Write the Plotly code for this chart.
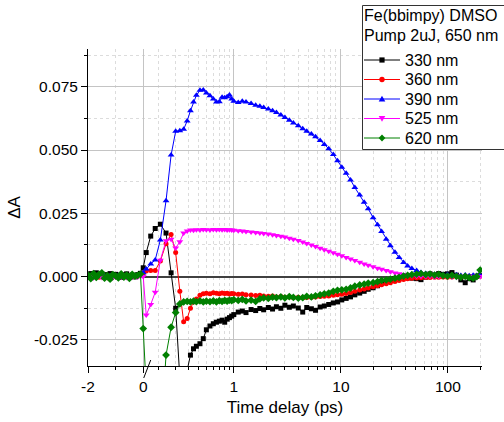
import numpy as np
import plotly.graph_objects as go

# ---------------- data ----------------
t_ps = [
    -2.0, -1.9, -1.8, -1.7, -1.6, -1.5, -1.4, -1.3, -1.2, -1.1, -1.0,
    -0.9, -0.8, -0.7, -0.6, -0.5, -0.4, -0.3, -0.2, -0.1, 0.0,
    0.02, 0.05, 0.08, 0.11, 0.14, 0.17, 0.2, 0.23, 0.26, 0.29, 0.32, 0.35,
    0.38, 0.42, 0.46, 0.5, 0.55, 0.6, 0.65, 0.7, 0.75, 0.8, 0.85, 0.9, 0.95,
    1.0, 1.1, 1.2, 1.3, 1.45, 1.6, 1.75, 1.9, 2.1, 2.3, 2.5, 2.75, 3.0, 3.3,
    3.6, 4.0, 4.4, 4.8, 5.3, 5.8, 6.4, 7.0, 7.7, 8.5, 9.3, 10.2, 11.2, 12.3,
    13.5, 15, 16.5, 18, 20, 22, 24, 26.5, 29, 32, 35, 38.5, 42, 46, 51, 56,
    62, 68, 75, 82, 90, 99, 109, 120, 132, 145, 158, 172, 186, 200,
]

dA_330 = [
    0.0008, 0.0012, 0.0004, 0.0015, 0.0006, 0.0010, -0.0002, 0.0008, 0.0012, 0.0003, 0.0009,
    0.0005, -0.0003, 0.0007, 0.0011, 0.0002, 0.0006, -0.0001, 0.0008, 0.0013, 0.0035,
    0.0095, 0.016, 0.019, 0.0207, 0.0172, 0.0015, -0.0125, -0.040, -0.045, -0.037, -0.031, -0.0285,
    -0.0275, -0.0265, -0.0245, -0.021, -0.0195, -0.0186, -0.0180, -0.0176, -0.0172, -0.0180, -0.0168, -0.0162, -0.0156,
    -0.0150, -0.0140, -0.0136, -0.0142, -0.0130, -0.0134, -0.0126, -0.0131, -0.0122, -0.0128,
    -0.0119, -0.0125, -0.0113, -0.0121, -0.0116, -0.0124, -0.0140, -0.0122, -0.0127, -0.0133,
    -0.0120, -0.0116, -0.0110, -0.0104, -0.0100, -0.0092, -0.0086, -0.0080, -0.0072, -0.0065,
    -0.0058, -0.0050, -0.0044, -0.0036, -0.0026, -0.0020, -0.0015, -0.0008, -0.0005, 0.0,
    -0.0003, -0.0006, -0.0008, -0.0012, -0.0002, 0.0011, 0.0006, 0.0012, 0.0009, 0.0011,
    0.0016, 0.0006, -0.0013, -0.0024, -0.0008, -0.0013, 0.0002, 0.0004,
]

dA_360 = [
    0.0002, -0.0003, 0.0004, 0.0, -0.0002, 0.0003, 0.0001, -0.0004, 0.0002, 0.0, 0.0003,
    -0.0002, 0.0001, 0.0004, -0.0001, 0.0002, 0.0, 0.0003, 0.0001, 0.0005, 0.0012,
    0.0022, 0.0024, 0.0024, 0.0062, 0.0130, 0.0166, 0.0095, -0.0058, -0.0178, -0.0165, -0.0125, -0.0100,
    -0.0088, -0.0074, -0.0068, -0.0066, -0.0068, -0.0064, -0.0066, -0.0068, -0.0065, -0.0067, -0.0066, -0.0069, -0.0067,
    -0.0068, -0.0070, -0.0069, -0.0072, -0.0073, -0.0075, -0.0074, -0.0077, -0.0078, -0.0077,
    -0.0080, -0.0079, -0.0081, -0.0080, -0.0082, -0.0081, -0.0083, -0.0082, -0.0081, -0.0080,
    -0.0079, -0.0078, -0.0077, -0.0074, -0.0072, -0.0070, -0.0067, -0.0063, -0.0058, -0.0053,
    -0.0049, -0.0045, -0.0040, -0.0036, -0.0032, -0.0028, -0.0024, -0.0019, -0.0015, -0.0011,
    -0.0008, -0.0006, -0.0005, -0.0004, -0.0003, -0.0003, -0.0002, -0.0002, -0.0001, -0.0002,
    -0.0001, 0.0, -0.0001, 0.0, 0.0001, 0.0, 0.0001, 0.0002,
]

dA_390 = [
    0.0001, 0.0003, -0.0002, 0.0002, 0.0, 0.0004, 0.0001, -0.0001, 0.0003, 0.0002, 0.0,
    0.0004, 0.0002, -0.0002, 0.0003, 0.0001, 0.0004, 0.0, 0.0003, 0.0006, 0.0015,
    0.003, 0.005, 0.0066, 0.0145, 0.030, 0.048, 0.0574, 0.0576, 0.0582, 0.0615, 0.0655, 0.069,
    0.0716, 0.0736, 0.0737, 0.0725, 0.0714, 0.0702, 0.0690, 0.0691, 0.0708, 0.0706, 0.0710, 0.0717, 0.0702,
    0.0693, 0.0688, 0.0693, 0.0690, 0.0684, 0.0677, 0.0673, 0.0668, 0.0662, 0.0655,
    0.0648, 0.0638, 0.0628, 0.0618, 0.0607, 0.0596, 0.0584, 0.0574, 0.0563, 0.0552,
    0.0538, 0.0522, 0.0505, 0.0482, 0.0458, 0.0432, 0.0408, 0.0382, 0.0352, 0.0322,
    0.0294, 0.0268, 0.0233, 0.0205, 0.0178, 0.0148, 0.0122, 0.0096, 0.0076, 0.0056,
    0.0042, 0.0032, 0.0024, 0.0016, 0.0012, 0.0010, 0.0008, 0.0009, 0.0006, 0.0008,
    0.0005, 0.0007, 0.0004, 0.0006, 0.0003, 0.0005, 0.0004, 0.0006,
]

dA_525 = [
    -0.0002, 0.0001, -0.0004, -0.0001, 0.0002, -0.0003, 0.0, -0.0002, 0.0001, -0.0004, -0.0001,
    0.0002, -0.0002, 0.0, -0.0003, 0.0001, -0.0002, 0.0, -0.0001, 0.0002, 0.0,
    -0.0152, -0.0110, -0.0062, 0.0065, 0.0142, 0.0148, 0.0113, 0.0138, 0.0172, 0.0180, 0.0184, 0.0183,
    0.0185, 0.0184, 0.0186, 0.0185, 0.0184, 0.0186, 0.0185, 0.0186, 0.0185, 0.0186, 0.0184, 0.0185, 0.0184,
    0.0183, 0.0181, 0.0180, 0.0178, 0.0176, 0.0174, 0.0172, 0.0170, 0.0168, 0.0165,
    0.0162, 0.0159, 0.0156, 0.0152, 0.0148, 0.0143, 0.0137, 0.0131, 0.0125, 0.0119,
    0.0112, 0.0106, 0.0100, 0.0094, 0.0088, 0.0082, 0.0076, 0.0070, 0.0064, 0.0057,
    0.0050, 0.0045, 0.0039, 0.0033, 0.0029, 0.0024, 0.0019, 0.0014, 0.0011, 0.0008,
    0.0005, 0.0003, 0.0002, 0.0001, 0.0, 0.0001, -0.0001, 0.0, 0.0001, 0.0,
    -0.0001, 0.0, 0.0001, 0.0, -0.0001, 0.0, 0.0001, 0.0,
]

dA_620 = [
    0.0006, -0.0008, 0.0012, -0.0003, 0.0009, 0.0015, -0.0006, 0.0004, -0.0010, 0.0008, 0.0003,
    -0.0005, 0.0011, -0.0002, 0.0006, -0.0007, 0.0009, 0.0002, 0.0005, 0.0010, -0.0205,
    -0.060, -0.080, -0.080, -0.065, -0.031, -0.0200, -0.0142, -0.0108, -0.0100, -0.0098, -0.0100, -0.0097,
    -0.0099, -0.0096, -0.0100, -0.0097, -0.0099, -0.0096, -0.0100, -0.0095, -0.0098, -0.0094, -0.0097, -0.0093, -0.0095,
    -0.0091, -0.0094, -0.0090, -0.0096, -0.0093, -0.0098, -0.0088, -0.0084, -0.0086, -0.0081,
    -0.0083, -0.0080, -0.0084, -0.0079, -0.0082, -0.0085, -0.0083, -0.0078, -0.0080, -0.0076,
    -0.0072, -0.0068, -0.0065, -0.0058, -0.0054, -0.0052, -0.0050, -0.0045, -0.0038, -0.0033,
    -0.0030, -0.0026, -0.0024, -0.0020, -0.0015, -0.0013, -0.0010, -0.0006, -0.0003, 0.0002,
    0.0005, 0.0008, 0.0010, 0.0012, 0.0008, 0.0010, 0.0006, 0.0009, 0.0004, 0.0002,
    0.0005, 0.0001, -0.0002, 0.0001, -0.0004, -0.0006, 0.0, 0.0026,
]

series_names = ["330 nm", "360 nm", "390 nm", "525 nm", "620 nm"]
series_values = [dA_330, dA_360, dA_390, dA_525, dA_620]
legend_title = ["Fe(bbimpy) DMSO", "Pump 2uJ, 650 nm"]

x_tick_values = [-2, 0, 1, 10, 100]
x_tick_labels = ["-2", "0", "1", "10", "100"]
x_minor_values = [-1, 0.1, 0.2, 0.3, 0.4, 0.5, 0.6, 0.7, 0.8, 0.9,
                  2, 3, 4, 5, 6, 7, 8, 9, 20, 30, 40, 50, 60, 70, 80, 90, 200]
y_tick_values = [-0.025, 0.0, 0.025, 0.05, 0.075]
y_tick_labels = ["-0.025", "0.000", "0.025", "0.050", "0.075"]
y_minor_values = [-0.0125, 0.0125, 0.0375, 0.0625, 0.0875]

for v in series_values:
    assert len(v) == len(t_ps), (len(v), len(t_ps))

# ---------------- broken linear / log time scale ----------------
def scale(t):
    t = float(t)
    if t <= 0:
        return 143.3 + 27.65 * t
    if t < 0.1:
        return 143.3 + 150.0 * t
    if t < 1:
        return 234.0 + 107.0 * np.log10((t + 0.12) / 1.12)
    return 234.0 + 107.2 * np.log10(t)

xs = [scale(t) for t in t_ps]

colors = ["#000000", "#ff0000", "#0000ff", "#ff00ff", "#008000"]
symbols = ["square", "circle", "triangle-up", "triangle-down", "diamond"]
sizes = [5, 5, 6, 6, 6]

FONT = "Liberation Sans, Arial, sans-serif"
fig = go.Figure()
for name, vals, col, sym, sz in zip(series_names, series_values, colors, symbols, sizes):
    fig.add_trace(go.Scatter(
        x=xs, y=vals, mode="lines+markers", name=name, showlegend=False,
        line=dict(color=col, width=1),
        marker=dict(symbol=sym, size=sz, color=col, line=dict(width=0)),
    ))

L, R, T, B = 88, 22, 49, 56
W, H = 504, 422
pw, ph = W - L - R, H - T - B

def xp(px):
    return (px - L) / pw

def yp(py):
    return (H - B - py) / ph

fig.update_layout(
    width=W, height=H,
    margin=dict(l=L, r=R, t=T, b=B, autoexpand=False),
    paper_bgcolor="white", plot_bgcolor="white",
    font=dict(family=FONT, size=15, color="black"),
    showlegend=False,
    xaxis=dict(
        range=[scale(-2), 482.5],
        tickmode="array",
        tickvals=[scale(v) for v in x_tick_values],
        ticktext=x_tick_labels,
        ticks="outside", ticklen=6, tickcolor="black", tickwidth=1,
        showline=True, linecolor="black", linewidth=1,
        showgrid=True, gridcolor="#c4c4c4", gridwidth=1,
        zeroline=False,
        tickfont=dict(family=FONT, size=15.5),
        title=dict(text="Time delay (ps)", font=dict(family=FONT, size=17), standoff=7),
        minor=dict(tickmode="array", tickvals=[scale(v) for v in x_minor_values],
                   ticks="outside", ticklen=3, tickcolor="black",
                   showgrid=True, gridcolor="#dcdcdc", griddash="dot", gridwidth=1),
    ),
    yaxis=dict(
        range=[-0.0353, 0.0899],
        tickmode="array", tickvals=y_tick_values, ticktext=y_tick_labels,
        ticks="outside", ticklen=6, tickcolor="black", tickwidth=1,
        showline=True, linecolor="black", linewidth=1,
        showgrid=True, gridcolor="#c4c4c4", gridwidth=1,
        zeroline=True, zerolinecolor="#404040", zerolinewidth=1.5,
        tickfont=dict(family=FONT, size=15.5),
        title=dict(text="ΔA", font=dict(family=FONT, size=17), standoff=8),
        minor=dict(tickmode="array", tickvals=y_minor_values,
                   ticks="outside", ticklen=3, tickcolor="black",
                   showgrid=True, gridcolor="#dcdcdc", griddash="dot", gridwidth=1),
    ),
)

# axis-break slash at time zero
fig.add_shape(type="line", xref="x", yref="paper",
              x0=scale(0) + 0.5, x1=scale(0) + 7.5,
              y0=-12 / ph, y1=6 / ph,
              line=dict(color="black", width=1))

# ---------------- legend box (Origin style) ----------------
fig.add_shape(type="rect", xref="paper", yref="paper",
              x0=xp(362.5), x1=xp(530), y0=yp(149.5), y1=yp(5.5),
              line=dict(color="#333333", width=1), fillcolor="white", layer="above")
for i, txt in enumerate(legend_title):
    fig.add_annotation(xref="paper", yref="paper", x=xp(362), y=yp(16 + 19.5 * i),
                       xanchor="left", yanchor="middle", showarrow=False,
                       text=txt, font=dict(family=FONT, size=16, color="black"))

marker_paths = {
    "square": "M -2.6,-2.6 L 2.6,-2.6 L 2.6,2.6 L -2.6,2.6 Z",
    "triangle-up": "M -3.3,-2.4 L 3.3,-2.4 L 0,3.3 Z",
    "triangle-down": "M -3.3,2.4 L 3.3,2.4 L 0,-3.3 Z",
    "diamond": "M 0,-3.4 L 3.4,0 L 0,3.4 L -3.4,0 Z",
}
for i, (name, col, sym) in enumerate(zip(series_names, colors, symbols)):
    py = 60 + 19.5 * i
    fig.add_shape(type="line", xref="paper", yref="paper",
                  x0=xp(364), x1=xp(400), y0=yp(py), y1=yp(py),
                  line=dict(color=col, width=1), layer="above")
    if sym == "circle":
        fig.add_shape(type="circle", xref="paper", yref="paper",
                      xsizemode="pixel", ysizemode="pixel",
                      xanchor=xp(382), yanchor=yp(py),
                      x0=-2.7, x1=2.7, y0=-2.7, y1=2.7,
                      fillcolor=col, line=dict(width=0), layer="above")
    else:
        fig.add_shape(type="path", xref="paper", yref="paper",
                      xsizemode="pixel", ysizemode="pixel",
                      xanchor=xp(382), yanchor=yp(py),
                      path=marker_paths[sym],
                      fillcolor=col, line=dict(width=0), layer="above")
    fig.add_annotation(xref="paper", yref="paper", x=xp(403), y=yp(py),
                       xanchor="left", yanchor="middle", showarrow=False,
                       text=name, font=dict(family=FONT, size=16, color="black"))

fig.write_html("out.html")
